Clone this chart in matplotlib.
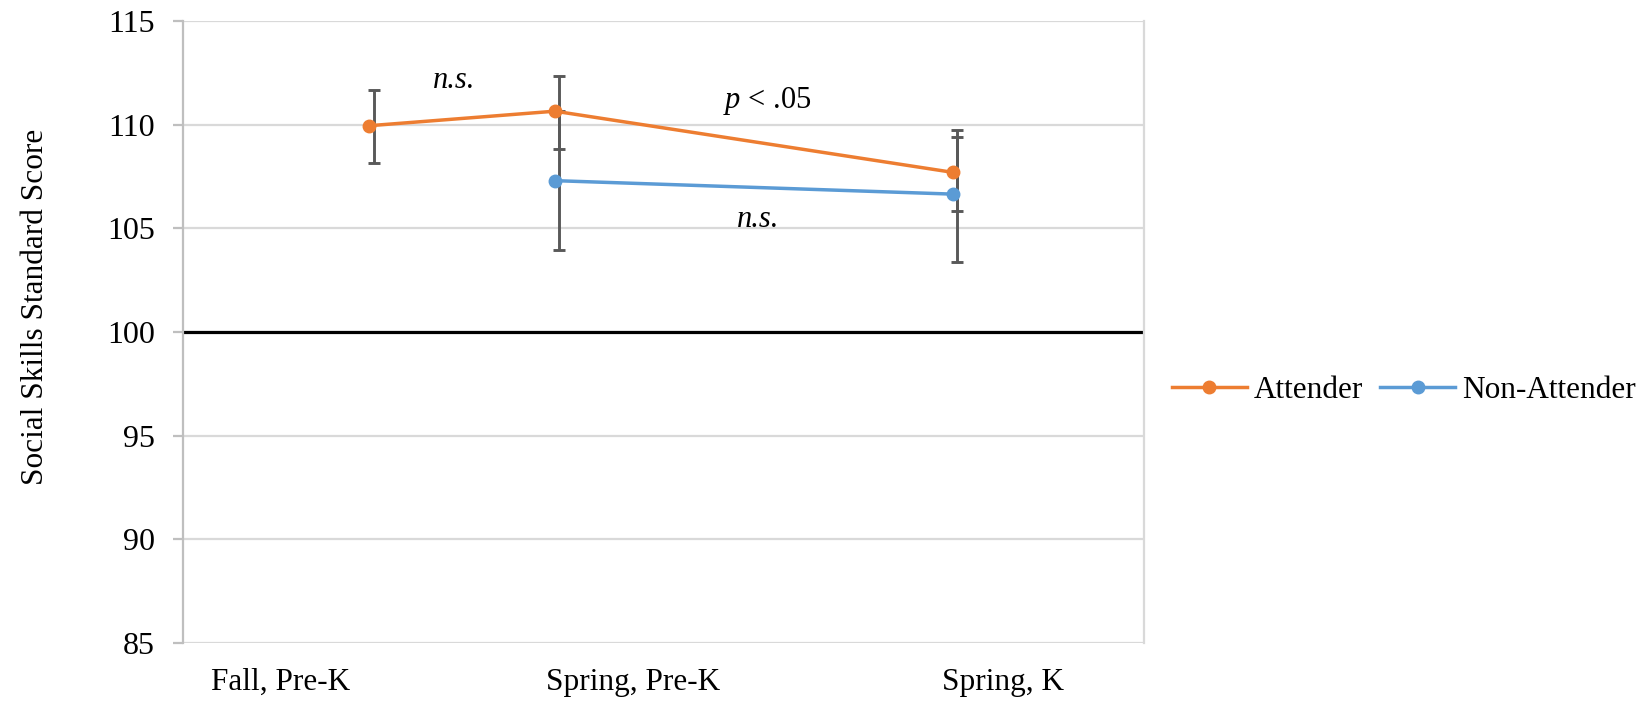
import matplotlib
matplotlib.use("Agg")
import matplotlib.pyplot as plt
from matplotlib.lines import Line2D

# ---- data ----
time_labels = ["Fall, Pre-K", "Spring, Pre-K", "Spring, K"]
label_pos = [1.02, 4.68, 8.53]          # tick label positions on the time axis
time_x = [1.94, 3.87, 8.01]             # measurement occasions on the time axis

att_mean = [109.95, 110.65, 107.70]
att_low = [108.17, 108.84, 105.83]
att_high = [111.67, 112.35, 109.76]

non_x = [3.87, 8.01]
non_mean = [107.30, 106.65]
non_low = [103.95, 103.37]
non_high = [110.67, 109.42]

reference_score = 100

ORANGE = "#ED7D31"
BLUE = "#5B9BD5"
ERR = "#595959"
GRID = "#D9D9D9"

plt.rcParams['font.family'] = ['Liberation Serif', 'DejaVu Serif']
plt.rcParams['mathtext.fontset'] = 'custom'
plt.rcParams['mathtext.it'] = 'Liberation Serif:italic'
plt.rcParams['mathtext.rm'] = 'Liberation Serif'

fig = plt.figure(figsize=(16.47, 7.02), dpi=100)
ax = fig.add_axes([183/1647, 1 - 643/702, (1144-183)/1647, (643-21)/702])

ax.set_xlim(0, 10)
ax.set_ylim(85, 115)
ax.set_yticks([85, 90, 95, 100, 105, 110, 115])
ax.yaxis.grid(True, color=GRID, lw=1.6, zorder=0)
ax.set_axisbelow(True)

for s in ["top", "bottom"]:
    ax.spines[s].set_visible(False)
ax.spines["left"].set_color("#BFBFBF")
ax.spines["left"].set_linewidth(1.6)
ax.spines["right"].set_color(GRID)
ax.spines["right"].set_linewidth(1.6)

ax.tick_params(axis='y', length=7, width=1.6, color="#BFBFBF", labelsize=23, pad=13)
ax.set_xticks(label_pos)
ax.set_xticklabels(time_labels, fontsize=22.5)
ax.tick_params(axis='x', length=0, pad=18)

fig.text(36/1647, 1 - 307/702, "Social Skills Standard Score", fontsize=22.5,
         rotation=90, ha='center', va='center')

ax.axhline(reference_score, color="black", lw=2.3, zorder=2)

off = 0.045
ax.errorbar([x + off for x in time_x], att_mean,
            yerr=[[m - l for m, l in zip(att_mean, att_low)],
                  [h - m for m, h in zip(att_mean, att_high)]],
            fmt='none', ecolor=ERR, elinewidth=2.1, capsize=4.3, capthick=2.1, zorder=3)
ax.errorbar([x + off for x in non_x], non_mean,
            yerr=[[m - l for m, l in zip(non_mean, non_low)],
                  [h - m for m, h in zip(non_mean, non_high)]],
            fmt='none', ecolor=ERR, elinewidth=2.1, capsize=4.3, capthick=2.1, zorder=3)

ax.plot(time_x, att_mean, color=ORANGE, lw=2.5, marker='o', ms=9, zorder=4)
ax.plot(non_x, non_mean, color=BLUE, lw=2.5, marker='o', ms=9, zorder=4)

# annotations
ax.text(2.82, 112.15, "n.s.", fontsize=22, style='italic', ha='center', va='center')
ax.text(6.08, 111.15, r"$\mathit{p}$ < .05", fontsize=22, ha='center', va='center')
ax.text(5.98, 105.45, "n.s.", fontsize=22, style='italic', ha='center', va='center')

handles = [Line2D([], [], color=ORANGE, lw=2.5, marker='o', ms=9),
           Line2D([], [], color=BLUE, lw=2.5, marker='o', ms=9)]
fig.legend(handles, ["Attender", "Non-Attender"], loc='center',
           bbox_to_anchor=(1404/1647, 1 - 390/702), ncol=2, frameon=False,
           fontsize=22.5, handlelength=2.4, handletextpad=0.23, columnspacing=0.55)

fig.savefig("out.png", dpi=100)
